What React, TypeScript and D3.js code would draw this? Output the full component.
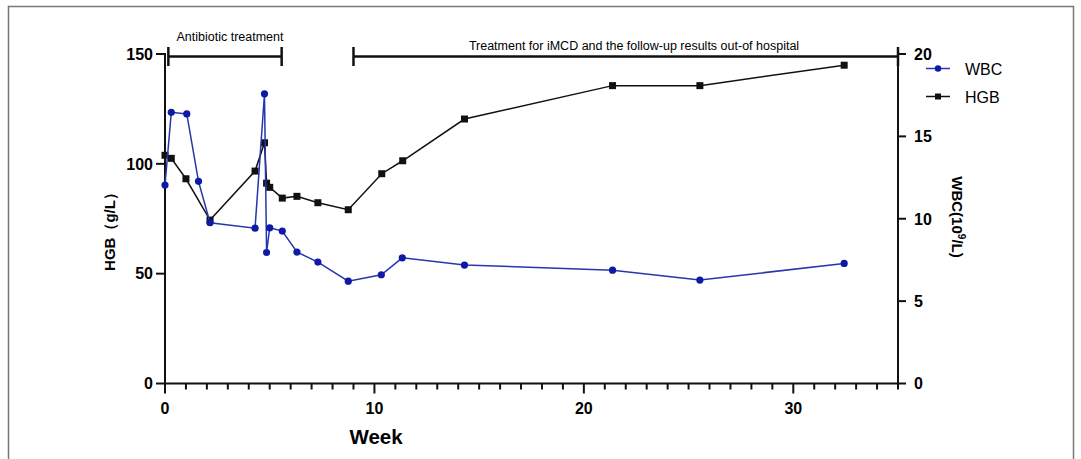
import React, { useEffect, useRef } from 'react';
import * as d3 from 'd3';

// ==== data

const hgbWeeks = [0, 0.3, 1.0, 2.15, 4.3, 4.75, 4.85, 5.0, 5.6, 6.3, 7.3, 8.75, 10.35, 11.35, 14.3, 21.37, 25.54, 32.43];
const hgbValues = [103.9, 102.5, 93.2, 74.4, 96.7, 109.6, 91.2, 89.3, 84.4, 85.2, 82.3, 79.1, 95.5, 101.4, 120.4, 135.6, 135.6, 144.9];

const wbcWeeks = [0, 0.3, 1.04, 1.6, 2.15, 4.3, 4.75, 4.85, 5.0, 5.6, 6.3, 7.3, 8.75, 10.33, 11.33, 14.3, 21.37, 25.54, 32.43];
const wbcValues = [12.05, 16.46, 16.36, 12.27, 9.76, 9.43, 17.58, 7.95, 9.45, 9.25, 7.98, 7.37, 6.21, 6.6, 7.63, 7.19, 6.88, 6.28, 7.29];

const phaseLabels = ['Antibiotic treatment', 'Treatment for iMCD and the follow-up results out-of hospital'];
const phaseStart = [0.16, 9.0];
const phaseEnd = [5.57, 35];

const leftTicks = [0, 50, 100, 150];
const rightTicks = [0, 5, 10, 15, 20];
const xMajorTicks = [0, 10, 20, 30];

// ====

const FONT = '"Liberation Sans", Arial, sans-serif';
const BLUE_LINE = '#2636ad';
const BLUE_DOT = '#0d1aa3';
const BLACK = '#111';

function App() {
    const node = useRef<SVGSVGElement | null>(null);

    useEffect(() => {
        const svg = d3.select(node.current);
        svg.selectAll('*').remove();

        const x = d3.scaleLinear().domain([0, 35]).range([165, 898]);
        const yL = d3.scaleLinear().domain([0, 150]).range([383.5, 54]);
        const yR = d3.scaleLinear().domain([0, 20]).range([383.5, 54]);

        // frame
        svg.append('path')
            .attr('d', 'M8.5,459 V6.5 H1073.5 V459')
            .attr('fill', 'none')
            .attr('stroke', '#777')
            .attr('stroke-width', 1.5);

        // x axis
        const xAxis = svg.append('g');
        xAxis.append('line')
            .attr('x1', x(0)).attr('x2', x(35))
            .attr('y1', yL(0)).attr('y2', yL(0))
            .attr('stroke', BLACK).attr('stroke-width', 2);
        xAxis.selectAll('.minor')
            .data(d3.range(0, 36))
            .enter()
            .append('line')
            .attr('x1', (d) => x(d)).attr('x2', (d) => x(d))
            .attr('y1', yL(0))
            .attr('y2', (d) => yL(0) + (d % 10 === 0 ? 10 : 6))
            .attr('stroke', BLACK).attr('stroke-width', 2);
        xAxis.selectAll('.lbl')
            .data(xMajorTicks)
            .enter()
            .append('text')
            .attr('x', (d) => x(d))
            .attr('y', 414)
            .attr('text-anchor', 'middle')
            .attr('font-family', FONT).attr('font-weight', 'bold').attr('font-size', 16)
            .text((d) => d);
        svg.append('text')
            .attr('x', 376).attr('y', 444)
            .attr('text-anchor', 'middle')
            .attr('font-family', FONT).attr('font-weight', 'bold').attr('font-size', 20.5)
            .text('Week');

        // left axis
        const lAxis = svg.append('g');
        lAxis.append('line')
            .attr('x1', x(0)).attr('x2', x(0))
            .attr('y1', yL(0) + 1).attr('y2', yL(150) - 1)
            .attr('stroke', BLACK).attr('stroke-width', 2);
        lAxis.selectAll('.tk')
            .data(leftTicks)
            .enter()
            .append('line')
            .attr('x1', x(0) - 9).attr('x2', x(0))
            .attr('y1', (d) => yL(d)).attr('y2', (d) => yL(d))
            .attr('stroke', BLACK).attr('stroke-width', 2);
        lAxis.selectAll('.lbl')
            .data(leftTicks)
            .enter()
            .append('text')
            .attr('x', x(0) - 12)
            .attr('y', (d) => yL(d))
            .attr('dy', '0.36em')
            .attr('text-anchor', 'end')
            .attr('font-family', FONT).attr('font-weight', 'bold').attr('font-size', 16)
            .text((d) => d);
        svg.append('text')
            .attr('transform', 'translate(115,228) rotate(-90)')
            .attr('text-anchor', 'middle')
            .attr('font-family', FONT).attr('font-weight', 'bold').attr('font-size', 15)
            .text('HGB（g/L）');

        // right axis
        const rAxis = svg.append('g');
        rAxis.append('line')
            .attr('x1', x(35)).attr('x2', x(35))
            .attr('y1', yR(0) + 1).attr('y2', yR(20) - 1)
            .attr('stroke', BLACK).attr('stroke-width', 2);
        rAxis.selectAll('.tk')
            .data(rightTicks)
            .enter()
            .append('line')
            .attr('x1', x(35)).attr('x2', x(35) + 8)
            .attr('y1', (d) => yR(d)).attr('y2', (d) => yR(d))
            .attr('stroke', BLACK).attr('stroke-width', 2);
        rAxis.selectAll('.lbl')
            .data(rightTicks)
            .enter()
            .append('text')
            .attr('x', x(35) + 16)
            .attr('y', (d) => yR(d))
            .attr('dy', '0.36em')
            .attr('font-family', FONT).attr('font-weight', 'bold').attr('font-size', 16)
            .text((d) => d);
        const wl = svg.append('text')
            .attr('transform', 'translate(952,217) rotate(90)')
            .attr('text-anchor', 'middle')
            .attr('font-family', FONT).attr('font-weight', 'bold').attr('font-size', 15);
        wl.append('tspan').text('WBC(10');
        wl.append('tspan').attr('dy', -6).attr('font-size', 10).text('9');
        wl.append('tspan').attr('dy', 6).text('/L)');

        // phase brackets
        const br = svg.selectAll('.bracket')
            .data(phaseLabels.map((t, i) => ({ t, s: phaseStart[i], e: phaseEnd[i], i })))
            .enter()
            .append('g');
        br.append('line')
            .attr('x1', (d) => x(d.s)).attr('x2', (d) => x(d.e))
            .attr('y1', 56.5).attr('y2', 56.5)
            .attr('stroke', BLACK).attr('stroke-width', 2.5);
        br.append('line')
            .attr('x1', (d) => x(d.s)).attr('x2', (d) => x(d.s))
            .attr('y1', 47).attr('y2', 66)
            .attr('stroke', BLACK).attr('stroke-width', 2.5);
        br.append('line')
            .attr('x1', (d) => x(d.e)).attr('x2', (d) => x(d.e))
            .attr('y1', 47).attr('y2', 66)
            .attr('stroke', BLACK).attr('stroke-width', 2.5);
        br.append('text')
            .attr('x', (d) => (d.i === 0 ? 230 : 634))
            .attr('y', (d) => (d.i === 0 ? 41 : 50))
            .attr('text-anchor', 'middle')
            .attr('font-family', FONT).attr('font-size', 12.5)
            .text((d) => d.t);

        // HGB series
        const hgb = hgbWeeks.map((w, i) => [w, hgbValues[i]]);
        svg.append('path')
            .datum(hgb)
            .attr('d', d3.line().x((d) => x(d[0])).y((d) => yL(d[1])))
            .attr('fill', 'none')
            .attr('stroke', BLACK).attr('stroke-width', 1.5);
        svg.selectAll('.sq')
            .data(hgb)
            .enter()
            .append('rect')
            .attr('x', (d) => x(d[0]) - 3.5)
            .attr('y', (d) => yL(d[1]) - 3.5)
            .attr('width', 7).attr('height', 7)
            .attr('fill', BLACK);

        // WBC series
        const wbc = wbcWeeks.map((w, i) => [w, wbcValues[i]]);
        svg.append('path')
            .datum(wbc)
            .attr('d', d3.line().x((d) => x(d[0])).y((d) => yR(d[1])))
            .attr('fill', 'none')
            .attr('stroke', BLUE_LINE).attr('stroke-width', 1.5);
        svg.selectAll('.dot')
            .data(wbc)
            .enter()
            .append('circle')
            .attr('cx', (d) => x(d[0]))
            .attr('cy', (d) => yR(d[1]))
            .attr('r', 3.6)
            .attr('fill', BLUE_DOT);

        // legend
        const leg = svg.append('g');
        leg.append('line').attr('x1', 926).attr('x2', 950).attr('y1', 68.5).attr('y2', 68.5)
            .attr('stroke', BLUE_LINE).attr('stroke-width', 1.5);
        leg.append('circle').attr('cx', 938).attr('cy', 68.5).attr('r', 3.2).attr('fill', BLUE_DOT);
        leg.append('text').attr('x', 965).attr('y', 74.5)
            .attr('font-family', FONT).attr('font-size', 16).text('WBC');
        leg.append('line').attr('x1', 926).attr('x2', 950).attr('y1', 96.5).attr('y2', 96.5)
            .attr('stroke', BLACK).attr('stroke-width', 1.5);
        leg.append('rect').attr('x', 935).attr('y', 93.5).attr('width', 6).attr('height', 6).attr('fill', BLACK);
        leg.append('text').attr('x', 965).attr('y', 102.5)
            .attr('font-family', FONT).attr('font-size', 16).text('HGB');
    }, []);

    return (
        <svg
            ref={node}
            width={1081}
            height={459}
            style={{ position: 'absolute', left: 0, top: 0, background: '#fff' }}>
        </svg>
    );
}

export default App;
